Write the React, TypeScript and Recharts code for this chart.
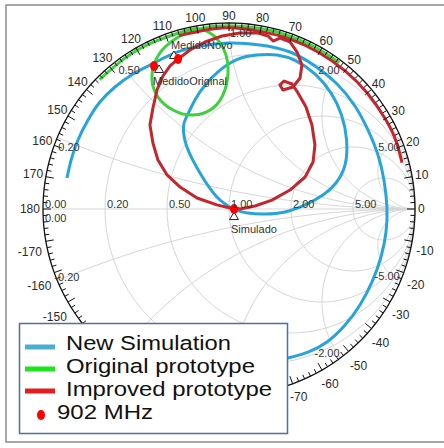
import React from "react";
import { ComposedChart, Line, Scatter, XAxis, YAxis } from "recharts";

type Pt = [number, number];

// reflection coefficient (re, im)
const newSimulationOuter: Pt[] = [
  [-0.871, 0.167], [-0.849, 0.263], [-0.812, 0.371], [-0.758, 0.478], [-0.694, 0.575],
  [-0.613, 0.656], [-0.516, 0.726], [-0.403, 0.785], [-0.29, 0.839], [-0.156, 0.876],
  [-0.005, 0.892], [0.167, 0.882], [0.328, 0.844], [0.462, 0.769], [0.581, 0.672],
  [0.677, 0.554], [0.747, 0.425], [0.801, 0.29], [0.833, 0.156], [0.849, 0.011],
  [0.844, -0.124], [0.817, -0.258], [0.769, -0.392], [0.704, -0.516], [0.624, -0.624],
  [0.527, -0.715], [0.425, -0.769], [0.317, -0.801], [0.194, -0.833],
];

const newSimulationLoop: Pt[] = [
  [0.027, -0.003], [-0.065, 0.065], [-0.156, 0.194], [-0.226, 0.333], [-0.245, 0.441],
  [-0.226, 0.5], [-0.183, 0.586], [-0.124, 0.672], [-0.048, 0.747], [0.048, 0.806],
  [0.151, 0.828], [0.258, 0.828], [0.36, 0.796], [0.462, 0.726], [0.548, 0.624],
  [0.605, 0.505], [0.632, 0.371], [0.624, 0.237], [0.575, 0.14], [0.505, 0.075],
  [0.409, 0.022], [0.301, -0.016], [0.194, -0.027], [0.102, -0.022], [0.027, -0.003],
];

const originalPrototype: Pt[] = [
  [-0.696, 0.696], [-0.565, 0.807], [-0.416, 0.893], [-0.255, 0.951], [-0.171, 0.97],
  [-0.086, 0.935], [-0.027, 0.855], [-0.005, 0.758], [-0.022, 0.64], [-0.086, 0.543],
  [-0.194, 0.505], [-0.301, 0.532], [-0.382, 0.602], [-0.414, 0.694], [-0.398, 0.79],
  [-0.344, 0.871], [-0.263, 0.93], [-0.183, 0.962], [-0.086, 0.981], [0.034, 0.984],
  [0.171, 0.97], [0.304, 0.937], [0.432, 0.885], [0.522, 0.835], [0.593, 0.787],
];

const improvedRim: Pt[] = [
  [-0.268, 0.932], [-0.135, 0.961], [0.0, 0.975], [0.169, 0.955], [0.332, 0.912],
  [0.485, 0.84], [0.624, 0.743], [0.743, 0.624], [0.84, 0.485], [0.899, 0.363],
  [0.93, 0.249],
];

const improvedLoop: Pt[] = [
  [0.027, 0.0], [-0.065, 0.022], [-0.172, 0.059], [-0.263, 0.118], [-0.333, 0.183],
  [-0.382, 0.263], [-0.409, 0.355], [-0.425, 0.452], [-0.409, 0.543], [-0.387, 0.64],
  [-0.355, 0.715], [-0.317, 0.769], [-0.274, 0.806], [-0.21, 0.855], [-0.129, 0.898],
  [-0.038, 0.93], [0.059, 0.946], [0.156, 0.946], [0.21, 0.93], [0.237, 0.903],
  [0.274, 0.919], [0.328, 0.898], [0.366, 0.844], [0.392, 0.774], [0.382, 0.704],
  [0.344, 0.656], [0.29, 0.64], [0.274, 0.667], [0.296, 0.688], [0.339, 0.672],
  [0.371, 0.624], [0.414, 0.548], [0.446, 0.452], [0.462, 0.344], [0.452, 0.253],
  [0.409, 0.172], [0.328, 0.102], [0.231, 0.048], [0.14, 0.016], [0.059, 0.0],
  [0.027, 0.0],
];

const markerNames = ["MedidoOriginal", "MedidoNovo", "Simulado"];
const markerDots: Pt[] = [[-0.403, 0.769], [-0.274, 0.806], [0.027, 0.0]];
const markerTriangles: Pt[] = [[-0.376, 0.753], [-0.296, 0.828], [0.027, -0.038]];

const resistanceValues = [0.2, 0.5, 1, 2, 5];
const reactanceValues = [0.2, 0.5, 1, 2, 5];
const realAxisLabels = [0, 0.2, 0.5, 1, 2, 5];
// lower-half reactance labels that are not covered by the legend
const lowerReactanceLabels = [0.2, 2, 5];
// angle labels visible around the rim (the rest sit under the legend)
const angleLabels = [
  0, 10, 20, 30, 40, 50, 60, 70, 80, 90, 100, 110, 120, 130, 140, 150, 160, 170, 180,
  -10, -20, -30, -40, -50, -60, -70, -150, -160, -170,
];

const legendNames = ["New Simulation", "Original prototype", "Improved prototype", "902 MHz"];
const legendColors = ["#4aaed2", "#1de41d", "#e51c1c", "#ff0000"];
const legendTextWidths = [165, 189, 206, 96];

const FONT = "Liberation Sans, Arial, sans-serif";
const DOMAIN: [number, number] = [-1.12, 1.12];
const GRID = "#d6d6d6";
const rad = (d: number) => (d * Math.PI) / 180;

const toData = (pts: Pt[]) => pts.map(([x, y]) => ({ x, y }));

// Smith chart grid
const resistanceCircle = (r: number) => {
  const c = r / (1 + r);
  const R = 1 / (1 + r);
  const out = [];
  for (let a = 0; a <= 360; a += 4) out.push({ x: c + R * Math.cos(rad(a)), y: R * Math.sin(rad(a)) });
  return out;
};

const rimPoint = (X: number) => ({
  x: (X * X - 1) / (X * X + 1),
  y: (2 * X) / (X * X + 1),
});

const reactanceArc = (xv: number) => {
  const X = Math.abs(xv);
  const R = 1 / X;
  const p = rimPoint(X);
  let end = Math.atan2(p.y - R, p.x - 1);
  if (end < 0) end += 2 * Math.PI;
  const start = 1.5 * Math.PI;
  const out = [];
  for (let i = 0; i <= 60; i++) {
    const a = start + ((end - start) * i) / 60;
    const y = R + R * Math.sin(a);
    out.push({ x: 1 + R * Math.cos(a), y: xv > 0 ? y : -y });
  }
  return out;
};

const rim = [];
for (let a = 0; a <= 360; a += 2) rim.push({ x: Math.cos(rad(a)), y: Math.sin(rad(a)) });

const rimTicks = [];
for (let a = -178; a <= 180; a += 2) rimTicks.push({ x: Math.cos(rad(a)), y: Math.sin(rad(a)), deg: a });

const degreeLabels = angleLabels.map((deg) => ({
  x: Math.cos(rad(deg)),
  y: Math.sin(rad(deg)),
  deg,
  text: String(deg),
}));

const axisLabels = [
  ...realAxisLabels.map((r) => ({ x: (r - 1) / (r + 1), y: 0, text: r.toFixed(2), kind: "axis" })),
  { x: -1, y: 0, text: "0.00", kind: "axisLow" },
  ...reactanceValues.map((X) => ({ ...rimPoint(X), text: X.toFixed(2), kind: X > 1 ? "upEnd" : "upStart" })),
  ...lowerReactanceLabels.map((X) => {
    const p = rimPoint(X);
    return { x: p.x, y: -p.y, text: "-" + X.toFixed(2), kind: X > 1 ? "lowEnd" : "lowStart" };
  }),
];

const labelStyle: Record<string, { dx: number; dy: number; anchor: "start" | "end" }> = {
  axis: { dx: 2, dy: -1, anchor: "start" },
  axisLow: { dx: 2, dy: 13, anchor: "start" },
  upStart: { dx: 1, dy: 14, anchor: "start" },
  upEnd: { dx: -1, dy: 14, anchor: "end" },
  lowStart: { dx: -3, dy: 0, anchor: "start" },
  lowEnd: { dx: -1, dy: -1, anchor: "end" },
};

const markerLabelOffset: Record<string, { dx: number; dy: number }> = {
  MedidoOriginal: { dx: -6, dy: 16 },
  MedidoNovo: { dx: -3, dy: -6 },
  Simulado: { dx: -3, dy: 17 },
};

const triangleData = markerTriangles.map(([x, y], i) => ({ x, y, name: markerNames[i] }));
const dotData = toData(markerDots);

const TickShape = (props: any) => {
  const { cx, cy, payload } = props;
  const a = rad(payload.deg);
  const len = payload.deg % 10 === 0 ? 8 : 4.5;
  return (
    <line
      x1={cx}
      y1={cy}
      x2={cx - len * Math.cos(a)}
      y2={cy + len * Math.sin(a)}
      stroke="#111"
      strokeWidth={1}
    />
  );
};

const DegreeLabel = (props: any) => {
  const { cx, cy, payload } = props;
  const a = rad(payload.deg);
  const c = Math.cos(a);
  const s = Math.sin(a);
  const w = payload.text.length * 6.7;
  const d = 7 + Math.abs(c) * (w / 2 - 4);
  const drop = payload.deg < 0 ? 3 + 5 * Math.abs(c) : 0;
  const shift = payload.deg < -45 && payload.deg > -90 ? 3 : 0;
  return (
    <text
      x={cx + d * c + shift}
      y={cy - d * s + drop + 4}
      textAnchor="middle"
      fontSize={12}
      fontFamily={FONT}
      fill="#2a2a2a"
    >
      {payload.text}
    </text>
  );
};

const GridLabel = (props: any) => {
  const { cx, cy, payload } = props;
  const st = labelStyle[payload.kind];
  return (
    <text
      x={cx + st.dx}
      y={cy + st.dy}
      textAnchor={st.anchor}
      fontSize={11}
      fontFamily={FONT}
      fill="#333"
    >
      {payload.text}
    </text>
  );
};

const TriangleShape = (props: any) => {
  const { cx, cy, payload } = props;
  const off = markerLabelOffset[payload.name];
  return (
    <g>
      <polygon
        points={`${cx},${cy - 4} ${cx - 4.5},${cy + 3.5} ${cx + 4.5},${cy + 3.5}`}
        fill="#fff"
        stroke="#222"
        strokeWidth={1}
      />
      <text x={cx + off.dx} y={cy + off.dy} fontSize={11} fontFamily={FONT} fill="#333">
        {payload.name}
      </text>
    </g>
  );
};

const DotShape = (props: any) => <ellipse cx={props.cx} cy={props.cy} rx={4} ry={5} fill="#ff0000" />;

const series = [
  { key: "nsOuter", data: newSimulationOuter, color: "#27a5da", curve: "natural" },
  { key: "nsLoop", data: newSimulationLoop, color: "#27a5da", curve: "natural" },
  { key: "orig", data: originalPrototype, color: "#3dd13d", curve: "natural" },
  { key: "impRim", data: improvedRim, color: "#c3262c", curve: "natural" },
  { key: "impLoop", data: improvedLoop, color: "#c3262c", curve: "linear" },
];

const SmithChart = () => {
  return (
    <div style={{ position: "absolute", left: 0, top: 0, width: 444, height: 448, background: "#fff" }}>
      <ComposedChart
        width={444}
        height={448}
        margin={{ top: 0.68, right: 6.68, bottom: 30.68, left: 20.68 }}
      >
        <XAxis dataKey="x" type="number" domain={DOMAIN} hide />
        <YAxis dataKey="y" type="number" domain={DOMAIN} hide />
        {resistanceValues.map((r) => (
          <Line
            key={"r" + r}
            data={resistanceCircle(r)}
            dataKey="y"
            type="linear"
            stroke={GRID}
            strokeWidth={1}
            dot={false}
            activeDot={false}
            isAnimationActive={false}
          />
        ))}
        {reactanceValues.flatMap((X) => [X, -X]).map((X) => (
          <Line
            key={"x" + X}
            data={reactanceArc(X)}
            dataKey="y"
            type="linear"
            stroke={GRID}
            strokeWidth={1}
            dot={false}
            activeDot={false}
            isAnimationActive={false}
          />
        ))}
        <Line
          data={[{ x: -1, y: 0 }, { x: 1, y: 0 }]}
          dataKey="y"
          type="linear"
          stroke={GRID}
          strokeWidth={1}
          dot={false}
          activeDot={false}
          isAnimationActive={false}
        />
        <Line
          data={rim}
          dataKey="y"
          type="linear"
          stroke="#111"
          strokeWidth={1.3}
          dot={false}
          activeDot={false}
          isAnimationActive={false}
        />
        <Scatter data={rimTicks} shape={TickShape} isAnimationActive={false} />
        {series.map((s) => (
          <Line
            key={s.key}
            data={toData(s.data)}
            dataKey="y"
            type={s.curve as any}
            stroke={s.color}
            strokeWidth={3}
            strokeLinejoin="round"
            dot={false}
            activeDot={false}
            isAnimationActive={false}
          />
        ))}
        <Scatter data={triangleData} shape={TriangleShape} isAnimationActive={false} />
        <Scatter data={dotData} shape={DotShape} isAnimationActive={false} />
        <Scatter data={axisLabels} shape={GridLabel} isAnimationActive={false} />
        <Scatter data={degreeLabels} shape={DegreeLabel} isAnimationActive={false} />
      </ComposedChart>
      <svg
        width={444}
        height={448}
        style={{ position: "absolute", left: 0, top: 0, pointerEvents: "none" }}
      >
        <rect x={6} y={5} width={446} height={437} fill="none" stroke="#8c8c8c" strokeWidth={1.5} />
        <rect x={19.5} y={323.5} width={268} height={110} fill="#fff" stroke="#4d6ea8" strokeWidth={1.5} />
        {legendNames.map((name, i) => {
          const base = 350 + i * 23;
          const isDot = i === 3;
          return (
            <g key={name}>
              {isDot ? (
                <ellipse cx={41} cy={415} rx={4} ry={5} fill={legendColors[i]} />
              ) : (
                <line x1={25} x2={55} y1={347 + i * 22} y2={347 + i * 22} stroke={legendColors[i]} strokeWidth={5} />
              )}
              <text
                x={isDot ? 57 : 66}
                y={base}
                fontSize={20.5}
                fontFamily={FONT}
                fill="#111"
                textLength={legendTextWidths[i]}
                lengthAdjust="spacingAndGlyphs"
              >
                {name}
              </text>
            </g>
          );
        })}
      </svg>
    </div>
  );
};

export default function App() {
  return <SmithChart />;
}
